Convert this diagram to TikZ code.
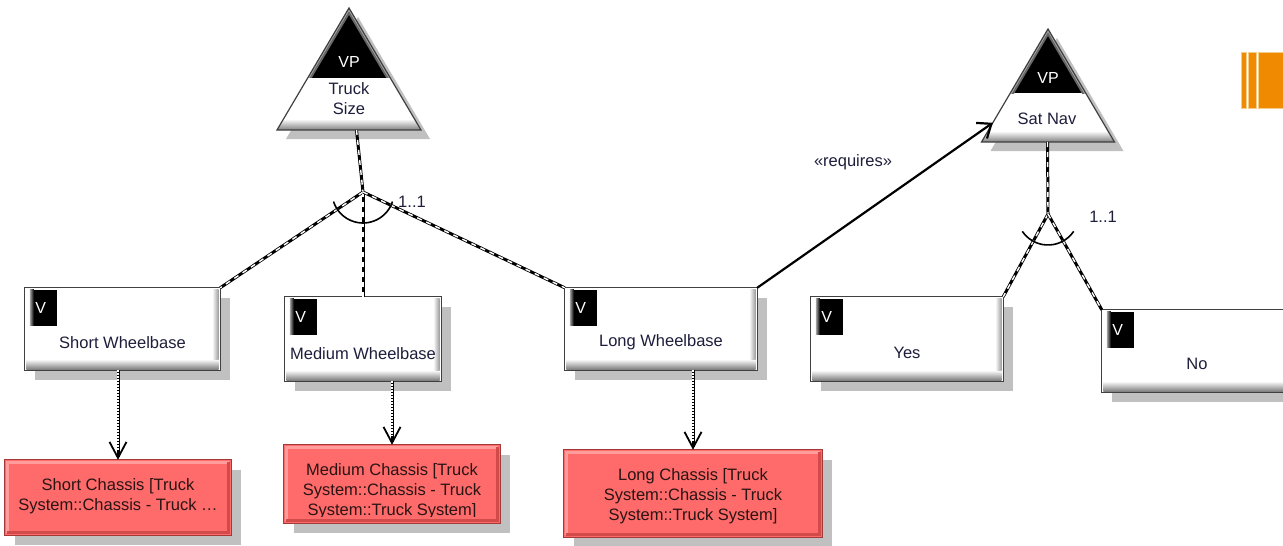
\documentclass[tikz,border=0pt]{standalone}
\usepackage{fontspec}
\setmainfont{Liberation Sans}
\usetikzlibrary{arrows.meta,calc}
\definecolor{txt}{HTML}{1E1E3C}
\definecolor{chtxt}{HTML}{2A1414}
\definecolor{chfill}{HTML}{FF6A6A}
\definecolor{chborder}{HTML}{A33A3A}
\definecolor{chlight}{HTML}{FF9C9C}
\definecolor{chdark}{HTML}{D24A4A}
\definecolor{shadowc}{HTML}{C0C0C0}
\definecolor{orng}{HTML}{F08A00}
\definecolor{orngb}{HTML}{F2CC88}
\tikzset{
  lbl/.style={font=\fontsize{16.5}{20}\selectfont, text=txt, inner sep=0pt, align=center},
  vtxt/.style={font=\fontsize{16}{19}\selectfont, text=white, inner sep=0pt},
  chtext/.style={font=\fontsize{16.5}{20}\selectfont, text=chtxt, inner sep=0pt, align=center},
  featrect/.style={fill=white, draw=none, inner sep=0pt},
  chrect/.style={fill=chfill, draw=none, inner sep=0pt},
  fdash/.style={draw=black, line width=3pt, postaction={draw=white, line width=1.4pt, dash pattern=on 5pt off 5pt}},
  fdot/.style={draw=black, line width=3pt, -{Straight Barb[length=16pt,width=17pt,line width=1.8pt]},
     postaction={draw=white, -, line width=1.2pt, dash pattern=on 1.5pt off 1.5pt, shorten >=9pt}},
  req/.style={draw=black, line width=2.2pt, -{Straight Barb[length=12pt,width=19pt,line width=2.2pt]}},
  grparc/.style={draw=black, line width=1.6pt},
}
\newcommand\featbox[6]{%
  \fill[shadowc] (#2+10,#3+10) rectangle (#4+10,#5+10);
  \node[featrect, minimum width={#4-#2}, minimum height={#5-#3}] (#1) at ({(#2+#4)/2},{(#3+#5)/2}) {};
  \shade[top color=white, bottom color=black!50] ([shift={(1.5,-11)}]#1.south west) rectangle ([shift={(-1.5,-1)}]#1.south east);
  \shade[left color=white, right color=black!40] ([shift={(-8,1.5)}]#1.north east) rectangle ([shift={(-1.5,-11)}]#1.south east);
  \draw[black!75, line width=1.3pt] (#1.south west) rectangle (#1.north east);
  \fill[black] ([shift={(7,2)}]#1.north west) rectangle ([shift={(32,38)}]#1.north west);
  \shade[left color=black!35, right color=black] ([shift={(5,2)}]#1.north west) rectangle ([shift={(9,38)}]#1.north west);
  \node[vtxt] (#1-v) at ([shift={(16,20)}]#1.north west) {V};
  \node[lbl] (#1-t) at ([shift={(0,-28)}]#1.south) {#6};
}
\newcommand\chbox[6]{%
  \fill[shadowc] (#2+10,#3+10) rectangle (#4+10,#5+10);
  \node[chrect, minimum width={#4-#2}, minimum height={#5-#3}] (#1) at ({(#2+#4)/2},{(#3+#5)/2}) {};
  \draw[chlight, line width=3pt] ([shift={(2.5,-2.5)}]#1.south west) -- ([shift={(2.5,2.5)}]#1.north west) -- ([shift={(-2.5,2.5)}]#1.north east);
  \draw[chdark, line width=3pt] ([shift={(-2.5,2.5)}]#1.north east) -- ([shift={(-2.5,-2.5)}]#1.south east) -- ([shift={(2.5,-2.5)}]#1.south west);
  \draw[chborder, line width=1.2pt] (#1.south west) rectangle (#1.north east);
  \begin{scope}
    \clip (#2,#3) rectangle (#4,#5-7);
    \node[chtext, anchor=north] (#1-t) at ([shift={(0,18.5)}]#1.north) {#6};
  \end{scope}
}
% name, apex x, apex y, half width, height
\newcommand\vptri[5]{%
  \coordinate (#1-apex) at (#2,#3);
  \coordinate (#1-bl) at (#2-#4,#3+#5);
  \coordinate (#1-br) at (#2+#4,#3+#5);
  \coordinate (#1) at (#2,#3+#5);
  \fill[shadowc] ([shift={(9,9)}]#1-apex) -- ([shift={(9,9)}]#1-bl) -- ([shift={(9,9)}]#1-br) -- cycle;
  \fill[white] (#1-apex) -- (#1-bl) -- (#1-br) -- cycle;
  \begin{scope}
    \clip (#1-apex) -- (#1-bl) -- (#1-br) -- cycle;
    \shade[top color=white, bottom color=black!50] (#2-#4,#3+#5-11) rectangle (#2+#4,#3+#5);
    \begin{scope}
      \clip (#2-#4,#3) rectangle (#2+#4,#3+0.57*#5);
      \fill[black] (#2-#4,#3) rectangle (#2+#4,#3+0.57*#5);
      \draw[black!60, line width=7pt] (#1-bl) -- (#1-apex) -- (#1-br);
      \draw[black!35, line width=3pt] (#1-bl) -- (#1-apex) -- (#1-br);
    \end{scope}
  \end{scope}
  \draw[black!75, line width=1.2pt, line join=miter] (#1-apex) -- (#1-bl) -- (#1-br) -- cycle;
}
\begin{document}
\begin{tikzpicture}[x=1pt, y=-1pt]
\useasboundingbox (0,0) rectangle (1283,546);
\clip (0,0) rectangle (1283,546);
\fill[white] (0,0) rectangle (1283,546);

% orange decoration
\filldraw[fill=orng, draw=orngb, line width=1pt] (1241,52) rectangle (1246,108);
\filldraw[fill=orng, draw=orngb, line width=1pt] (1248.5,52) rectangle (1256,108);
\filldraw[fill=orng, draw=orngb, line width=1pt] (1258.5,52) rectangle (1295,108);

% variation points
\vptri{ts}{349}{8}{72}{122}
\node[vtxt] (ts-vp) at (349,62) {VP};
\node[lbl] (ts-t) at (349,99) {Truck\\Size};
\vptri{sn}{1048}{29}{66.5}{113}
\node[vtxt] (sn-vp) at (1048,78) {VP};
\node[lbl] (sn-t) at (1047,119) {Sat Nav};

% variants
\featbox{sw}{25}{288}{220}{370}{Short Wheelbase}
\featbox{mw}{285}{297}{441}{381}{Medium Wheelbase}
\featbox{lw}{565}{288}{757}{370}{Long Wheelbase}
\featbox{yes}{811}{297}{1003}{381}{Yes}
\featbox{no}{1102}{310}{1292}{392}{No}

% chassis
\chbox{sc}{5}{460}{231}{535}{Short Chassis [Truck\\System::Chassis - Truck …}
\chbox{mc}{284}{445}{500}{523}{Medium Chassis [Truck\\System::Chassis - Truck\\System::Truck System]}
\chbox{lc}{564}{450}{822}{537}{Long Chassis [Truck\\System::Chassis - Truck\\System::Truck System]}

% junctions
\coordinate (ts-base) at (356.5,130);
\coordinate (ts-j) at (363,192);
\coordinate (sn-base) at (1047.5,142);
\coordinate (sn-j) at (1048,214);

\draw[fdash] (ts-base) -- (ts-j);
\draw[fdash] (ts-j) -- (sw.north east);
\draw[fdash] (ts-j) -- (mw.north);
\draw[fdash] (ts-j) -- (lw.north west);
\draw[grparc] ([shift={(18:31)}]ts-j) arc[start angle=18, end angle=162, radius=31];
\node[lbl] (ts-card) at (412,202) {1..1};

\draw[fdash] (sn-base) -- (sn-j);
\draw[fdash] (sn-j) -- (yes.north east);
\draw[fdash] (sn-j) -- (no.north west);
\draw[grparc] ([shift={(34:31)}]sn-j) arc[start angle=34, end angle=146, radius=31];
\node[lbl] (sn-card) at (1103,217) {1..1};

% requires
\coordinate (sn-in) at ($(sn-apex)!0.83!(sn-bl)$);
\draw[req] (lw.north east) -- (sn-in);
\node[lbl] (req-l) at (853,162) {«requires»};

% realizations
\draw[fdot] (sw.south -| sc.north) -- (sc.north);
\draw[fdot] (mw.south -| mc.north) -- (mc.north);
\draw[fdot] (lw.south -| lc.north) -- (lc.north);
\end{tikzpicture}
\end{document}
